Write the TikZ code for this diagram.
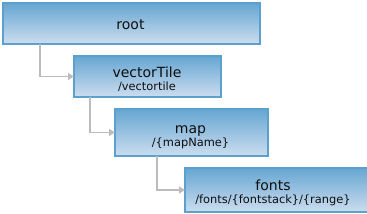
\documentclass[tikz,border=0pt]{standalone}
\usepackage{fontspec}
\setmainfont{DejaVu Sans}
\usetikzlibrary{arrows.meta}
\definecolor{boxtop}{RGB}{102,166,210}
\definecolor{boxbot}{RGB}{204,221,239}
\definecolor{boxline}{RGB}{92,160,205}
\definecolor{connc}{RGB}{188,188,188}
\definecolor{txt}{RGB}{15,15,15}
\tikzset{
  box/.style={rectangle, draw=boxline, line width=1.3pt, top color=boxtop, bottom color=boxbot, outer sep=0pt, inner sep=0pt},
  title/.style={anchor=base, inner sep=0pt, text=txt, font=\fontsize{14}{15}\selectfont},
  sub/.style={anchor=base, inner sep=0pt, text=txt, font=\fontsize{11.4}{12}\selectfont},
  conn/.style={draw=connc, line width=1.8pt, -{Triangle[length=6pt,width=7pt]}}
}
\begin{document}
\begin{tikzpicture}[x=1pt,y=-1pt]
\clip (0,0) rectangle (367,214);
\fill[white] (0,0) rectangle (367,214);
\node[box, minimum width=257pt, minimum height=41pt] (root) at (131.5,23.5) {};
\node[box, minimum width=147pt, minimum height=41pt] (vt) at (147.5,76.5) {};
\node[box, minimum width=153pt, minimum height=47pt] (map) at (191.5,132.5) {};
\node[box, minimum width=190pt, minimum height=44pt] (fonts) at (280,190) {};
\node[title] (rootT) at (130.5,29) {root};
\node[title] (vtT) at (147,77.5) {vectorTile};
\node[sub] (vtS) at (147,90) {/vectortile};
\node[title] (mapT) at (190.5,133.5) {map};
\node[sub] (mapS) at (190.5,146.5) {/\{mapName\}};
\node[title] (fontsT) at (273,190) {fonts};
\node[sub] (fontsS) at (273,203.5) {/fonts/\{fontstack\}/\{range\}};
\draw[conn] ([xshift=37pt]root.south west) |- (vt.west);
\draw[conn] ([xshift=16pt]vt.south west) |- (map.west);
\draw[conn] ([xshift=42pt]map.south west) |- (fonts.west);
\end{tikzpicture}
\end{document}
